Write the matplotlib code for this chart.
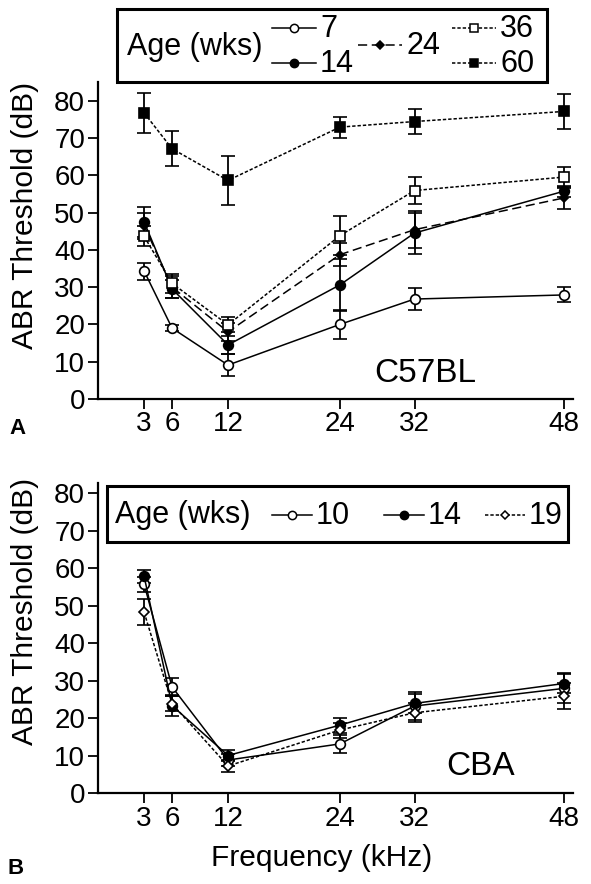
import numpy as np
import matplotlib
matplotlib.use("Agg")
import matplotlib.pyplot as plt
from matplotlib.lines import Line2D
from matplotlib.patches import Rectangle

plt.rcParams['font.family'] = ['Liberation Sans', 'DejaVu Sans']

# --- Data ---
freqs = [3, 6, 12, 24, 32, 48]
xtick_labels = ["3", "6", "12", "24", "32", "48"]

# Panel A: C57BL
c57_ages = ["7", "14", "24", "36", "60"]
c57_7 = [34.3, 19.0, 9.1, 20.0, 26.8, 27.9]
c57_7_err = [2.3, 0.8, 3.0, 3.8, 3.0, 2.0]
c57_14 = [47.5, 29.5, 14.5, 30.6, 44.5, 55.7]
c57_14_err = [4.1, 2.5, 2.5, 7.0, 5.5, 1.5]
c57_24 = [46.5, 30.0, 18.0, 38.7, 45.4, 53.9]
c57_24_err = [3.5, 3.0, 2.5, 3.0, 5.0, 3.0]
c57_36 = [43.6, 31.0, 19.9, 43.8, 55.9, 59.5]
c57_36_err = [2.7, 2.5, 2.0, 5.3, 3.5, 2.8]
c57_60 = [76.7, 67.1, 58.6, 72.9, 74.4, 77.1]
c57_60_err = [5.3, 4.7, 6.5, 2.8, 3.4, 4.6]

# Panel B: CBA
cba_ages = ["10", "14", "19"]
cba_10 = [55.7, 28.3, 8.8, 13.1, 23.2, 27.9]
cba_10_err = [2.0, 2.5, 1.5, 2.5, 3.8, 4.0]
cba_14 = [57.8, 23.3, 10.0, 18.1, 23.9, 29.2]
cba_14_err = [1.8, 2.8, 1.5, 2.0, 2.5, 2.5]
cba_19 = [48.2, 23.8, 7.2, 16.8, 21.4, 25.8]
cba_19_err = [3.5, 2.0, 1.5, 2.0, 2.5, 3.5]

# --- styles ---
W, H = 591, 884
DOT = (0, (2.2, 1.3))
DASH = (0, (6, 3))
lw = 1.1
styles = {
    "open_circle": dict(ls="-", marker="o", mfc="white", ms=7),
    "fill_circle": dict(ls="-", marker="o", mfc="black", ms=7),
    "fill_diamond": dict(ls=DASH, marker="D", mfc="black", ms=4.5),
    "open_square": dict(ls=DOT, marker="s", mfc="white", ms=6.5),
    "fill_square": dict(ls=DOT, marker="s", mfc="black", ms=6.5),
    "open_diamond": dict(ls=DOT, marker="D", mfc="white", ms=5),
}

fig = plt.figure(figsize=(W / 100, H / 100), dpi=100)
axA = fig.add_axes([97.5 / W, 1 - 399 / H, 475.5 / W, 317 / H])
axB = fig.add_axes([97.5 / W, 1 - 793 / H, 475.5 / W, 310 / H])


def draw_series(ax, y, err, st):
    ax.errorbar(freqs, y, yerr=err, color="black", lw=lw, mec="black", mew=1.2,
                capsize=5, capthick=1.3, elinewidth=1.3, **st)


for y, e, s in [(c57_7, c57_7_err, "open_circle"), (c57_14, c57_14_err, "fill_circle"),
                (c57_24, c57_24_err, "fill_diamond"), (c57_36, c57_36_err, "open_square"),
                (c57_60, c57_60_err, "fill_square")]:
    draw_series(axA, y, e, styles[s])

for y, e, s in [(cba_10, cba_10_err, "open_circle"), (cba_14, cba_14_err, "fill_circle"),
                (cba_19, cba_19_err, "open_diamond")]:
    draw_series(axB, y, e, styles[s])

for ax, ytop, lab_y in [(axA, 85, 0.58), (axB, 82.7, 0.587)]:
    ax.set_xlim(-2, 49)
    ax.set_ylim(0, ytop)
    ax.set_yticks(np.arange(0, 81, 10))
    ax.set_xticks(freqs)
    ax.set_xticklabels(xtick_labels)
    ax.spines["top"].set_visible(False)
    ax.spines["right"].set_visible(False)
    ax.spines["left"].set_linewidth(1.6)
    ax.spines["bottom"].set_linewidth(1.6)
    ax.tick_params(direction="out", length=7, width=1.3, labelsize=20, pad=2)
    ax.set_ylabel("ABR Threshold (dB)", fontsize=21.5)
    ax.yaxis.label.set_va("center")
    ax.yaxis.set_label_coords(-0.152, lab_y)

axB.set_xlabel("Frequency (kHz)", fontsize=21.5)
axB.xaxis.label.set_va("center")
axB.xaxis.set_label_coords(0.472, -0.21)
axA.text(0.69, 0.08, "C57BL", transform=axA.transAxes, fontsize=24, ha="center", va="center")
axB.text(0.805, 0.085, "CBA", transform=axB.transAxes, fontsize=24, ha="center", va="center")

fig.text(17 / W, 1 - 428 / H, "A", fontsize=16, fontweight="bold", ha="center", va="center")
fig.text(16 / W, 1 - 868 / H, "B", fontsize=16, fontweight="bold", ha="center", va="center")


# --- hand-made legends (pixel positions on the figure) ---
def px(x, y):
    return x / W, 1 - y / H


def legend_box(x0, y0, x1, y1):
    fig.patches.append(Rectangle(px(x0, y1), (x1 - x0) / W, (y1 - y0) / H, transform=fig.transFigure,
                                 fill=True, fc="white", ec="black", lw=2.2, zorder=5))


def legend_entry(xc, yc, label, st, half=22, fs=22):
    xs = [px(xc - half, yc)[0], px(xc + half, yc)[0]]
    ys = [px(xc, yc)[1]] * 2
    fig.lines.append(Line2D(xs, ys, transform=fig.transFigure, color="black", lw=lw,
                            ls=st["ls"], zorder=6))
    fig.lines.append(Line2D([xs[0] + (xs[1] - xs[0]) / 2], [ys[0]], transform=fig.transFigure,
                            color="black", marker=st["marker"], mfc=st["mfc"], mec="black",
                            ms=st["ms"] * 0.85, mew=1.1, zorder=7))
    fig.text(*px(xc + half + 4, yc + 1), label, fontsize=fs, ha="left", va="center", zorder=7)


legend_box(117, 9, 547, 82)
fig.text(*px(127, 47), "Age (wks)", fontsize=22, ha="left", va="center", zorder=7)
legend_entry(294, 28, c57_ages[0], styles["open_circle"])
legend_entry(294, 63, c57_ages[1], styles["fill_circle"])
legend_entry(380, 45, c57_ages[2], styles["fill_diamond"])
legend_entry(474, 28, c57_ages[3], styles["open_square"])
legend_entry(474, 63, c57_ages[4], styles["fill_square"])

legend_box(107, 486, 568, 542)
fig.text(*px(115, 515), "Age (wks)", fontsize=22, ha="left", va="center", zorder=7)
legend_entry(292, 515, cba_ages[0], styles["open_circle"], half=20)
legend_entry(404, 515, cba_ages[1], styles["fill_circle"], half=20)
legend_entry(505, 515, cba_ages[2], styles["open_diamond"], half=20)

fig.savefig("out.png", dpi=100)
